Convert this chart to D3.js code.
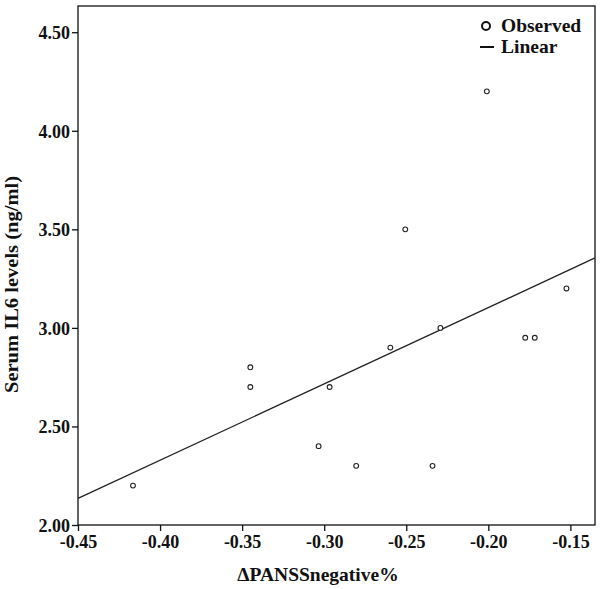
<!DOCTYPE html>
<html>
<head>
<meta charset="utf-8">
<script src="https://cdn.jsdelivr.net/npm/d3@7"></script>
<style>
	body{margin:0;background:#fff;}
	text{font-family:"Liberation Serif","Times New Roman",serif;font-weight:bold;fill:#111;}
</style>
</head>
<body>
<div id="chart"></div>
<script>
// observed points
var changeNeg = [-0.4165, -0.345, -0.345, -0.3034, -0.2967, -0.2805, -0.2597,
                 -0.2506, -0.234, -0.2292, -0.2009, -0.1775, -0.1717, -0.1524];
var il6Level  = [2.20, 2.80, 2.70, 2.40, 2.70, 2.30, 2.90,
                 3.50, 2.30, 3.00, 4.20, 2.95, 2.95, 3.20];
var xTicks = [-0.45, -0.40, -0.35, -0.30, -0.25, -0.20, -0.15];
var yTicks = [2.00, 2.50, 3.00, 3.50, 4.00, 4.50];
var legendItems = ["Observed", "Linear"];

(function (){
	var width = 602, height = 589;
	var left = 78, right = 595, top = 6, bottom = 525;

	var points = changeNeg.map(function(d,i){ return {x:d, y:il6Level[i]}; });

	var x = d3.scaleLinear().domain([-0.45, -0.135]).range([left, right]);
	var y = d3.scaleLinear().domain([2.00, 4.633]).range([bottom, top]);

	// plain hyphen instead of d3's unicode minus
	var fmt = function(d){ return d3.format(".2f")(d).replace("\u2212", "-"); };

	// least squares fit
	var mx = d3.mean(changeNeg), my = d3.mean(il6Level);
	var sxy = d3.sum(points, function(d){ return (d.x-mx)*(d.y-my); });
	var sxx = d3.sum(points, function(d){ return (d.x-mx)*(d.x-mx); });
	var slope = sxy/sxx, icpt = my - slope*mx;

	var svg = d3.select("#chart").append("svg")
				.attr("width", width)
				.attr("height", height);

	// frame
	svg.append("rect")
		.attr("x", left).attr("y", top)
		.attr("width", right-left).attr("height", bottom-top)
		.attr("fill", "none")
		.attr("stroke", "#111")
		.attr("stroke-width", 1.3);

	var xAxis = svg.append("g")
		.attr("transform", "translate(0," + bottom + ")")
		.call(d3.axisBottom(x).tickValues(xTicks).tickFormat(fmt).tickSize(6).tickPadding(4));
	var yAxis = svg.append("g")
		.attr("transform", "translate(" + left + ",0)")
		.call(d3.axisLeft(y).tickValues(yTicks).tickFormat(fmt).tickSize(6).tickPadding(2));

	[xAxis, yAxis].forEach(function(a){
		a.attr("font-family", "'Liberation Serif','Times New Roman',serif")
		 .attr("font-size", 18)
		 .attr("font-weight", "bold");
		a.select(".domain").remove();
		a.selectAll("line").attr("stroke", "#111").attr("stroke-width", 1.3);
		a.selectAll("text")
			.style("font-family", "'Liberation Serif','Times New Roman',serif")
			.style("font-weight", "700")
			.style("font-size", "18px")
			.attr("fill", "#111");
	});
	yAxis.selectAll("text").attr("dy", "0.36em");

	// fit line
	var xd = x.domain();
	svg.append("line")
		.attr("x1", x(xd[0])).attr("y1", y(icpt + slope*xd[0]))
		.attr("x2", x(xd[1])).attr("y2", y(icpt + slope*xd[1]))
		.attr("stroke", "#222")
		.attr("stroke-width", 1.3);

	svg.selectAll("circle.obs")
		.data(points)
		.enter()
		.append("circle")
		.attr("class", "obs")
		.attr("cx", function(d){ return x(d.x); })
		.attr("cy", function(d){ return y(d.y); })
		.attr("r", 2.4)
		.attr("fill", "#fff")
		.attr("stroke", "#222")
		.attr("stroke-width", 1.1);

	// axis titles
	svg.append("text")
		.attr("x", 318).attr("y", 581)
		.attr("text-anchor", "middle")
		.style("font-size", "19.5px")
		.text("\u0394PANSSnegative%");

	svg.append("text")
		.attr("transform", "translate(18,284.5) rotate(-90)")
		.attr("text-anchor", "middle")
		.attr("textLength", 217)
		.attr("lengthAdjust", "spacingAndGlyphs")
		.style("font-size", "19px")
		.text("Serum IL6 levels (ng/ml)");

	// legend
	var lg = svg.append("g").attr("transform", "translate(480,26)");
	lg.append("circle")
		.attr("cx", 6).attr("cy", 0).attr("r", 4)
		.attr("fill", "none").attr("stroke", "#111").attr("stroke-width", 2);
	lg.append("line")
		.attr("x1", 0).attr("x2", 14).attr("y1", 21).attr("y2", 21)
		.attr("stroke", "#111").attr("stroke-width", 2);
	lg.selectAll("text.lg")
		.data(legendItems)
		.enter()
		.append("text")
		.attr("class", "lg")
		.attr("x", 21)
		.attr("y", function(d,i){ return 6 + i*21; })
		.style("font-size", "19.5px")
		.text(function(d){ return d; });
})();
</script>
</body>
</html>
